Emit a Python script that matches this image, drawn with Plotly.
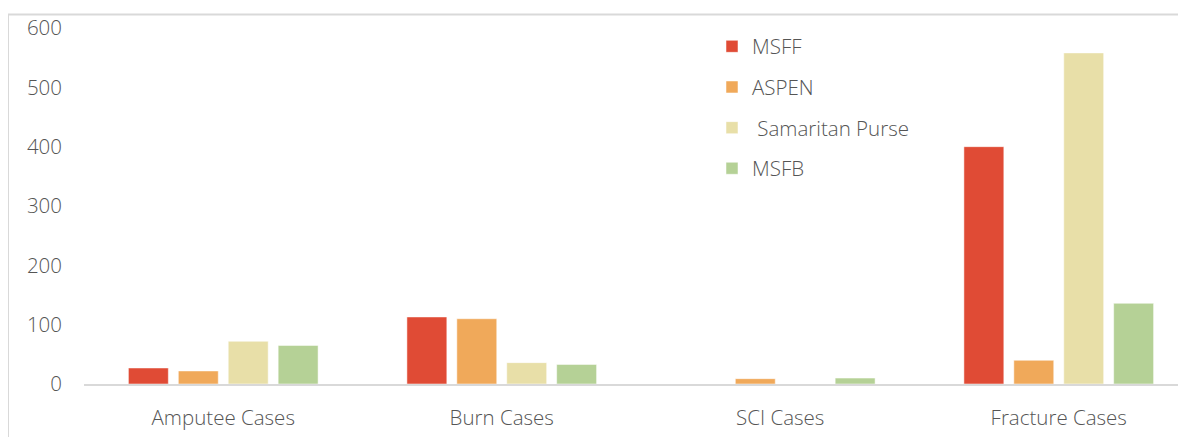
import plotly.graph_objects as go

categories = ["Amputee Cases", "Burn Cases", "SCI Cases", "Fracture Cases"]
series_names = ["MSFF", "ASPEN", " Samaritan Purse", "MSFB"]
msff = [27, 113, 0, 400]
aspen = [22, 110, 9, 40]
samaritan = [72, 36, 0, 558]
msfb = [65, 33, 10, 136]
colors = ["#E04B35", "#F0A95A", "#E8DFA8", "#B5D196"]
y_ticks = [0, 100, 200, 300, 400, 500, 600]

values = [msff, aspen, samaritan, msfb]
font_family = "Open Sans, Lato, sans-serif"
text_color = "#555555"
fs = 20.5

# page offset from default body margin
off = 8
W, H = 1186 - off, 437 - off
left = 84 - off
top = 27.5 - off
bottom_px = 384.5 - off
right = 0
bottom = H - bottom_px
pw = W - left - right
ph = H - top - bottom

def px_to_paper_x(px):
    return (px - off - left) / pw

def px_to_paper_y(py):
    return (bottom_px - (py - off)) / ph

fig = go.Figure()
for i, (name, vals) in enumerate(zip(series_names, values)):
    fig.add_trace(go.Bar(
        x=categories, y=vals, name=name,
        marker=dict(color=colors[i], line=dict(color="rgba(255,255,255,0.5)", width=1)),
        legendgroup=f"g{i}",
    ))

fig.update_layout(
    width=W, height=H,
    margin=dict(l=left, r=right, t=top, b=bottom, autoexpand=False),
    paper_bgcolor="white", plot_bgcolor="white",
    barmode="group", bargap=0.283, bargroupgap=0.2,
    font=dict(family=font_family, size=fs, color=text_color, weight=300),
    showlegend=True,
    legend=dict(
        x=px_to_paper_x(712), y=px_to_paper_y(26), xanchor="left", yanchor="top",
        bgcolor="rgba(0,0,0,0)", tracegroupgap=11,
        font=dict(family=font_family, size=fs, color=text_color, weight=300),
    ),
    xaxis=dict(
        range=[-0.5, 3.5 - 12 / 278.4], showgrid=False, showline=True,
        linecolor="#D9D9D9", linewidth=2, ticks="", ticklabelstandoff=14,
        tickfont=dict(size=fs, color=text_color, weight=300),
    ),
    yaxis=dict(
        range=[0, 600], tickvals=y_ticks, showgrid=False, zeroline=False,
        showline=False, ticks="", ticklabelstandoff=21,
        tickfont=dict(size=fs, color=text_color, weight=300),
    ),
    shapes=[dict(
        type="rect", xref="paper", yref="paper",
        x0=px_to_paper_x(8), x1=1.02, y0=-0.3, y1=px_to_paper_y(14),
        line=dict(color="#D9D9D9", width=2), fillcolor="rgba(0,0,0,0)", layer="below",
    )],
)

fig.write_html("out.html")
